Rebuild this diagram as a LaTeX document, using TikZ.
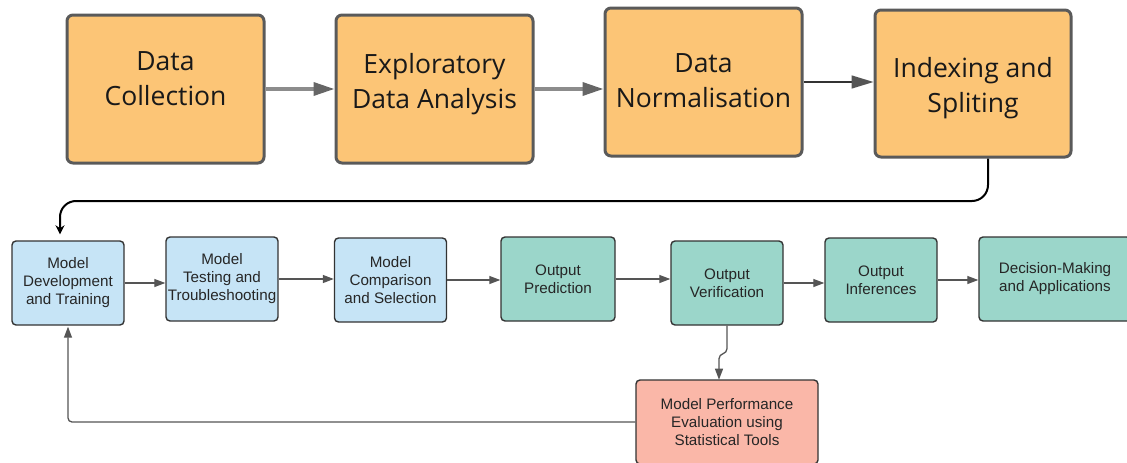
\documentclass[tikz,border=0pt]{standalone}
\usepackage{fontspec}
\setmainfont{Open Sans}
\newfontfamily\arialf{Liberation Sans}
\usetikzlibrary{arrows.meta,calc}
\definecolor{orfill}{HTML}{FCC576}
\definecolor{orline}{HTML}{5A5A5A}
\definecolor{blfill}{HTML}{C6E4F6}
\definecolor{tlfill}{HTML}{9BD6CA}
\definecolor{pkfill}{HTML}{FAB7A8}
\definecolor{bxline}{HTML}{333333}
\definecolor{grline}{HTML}{8C8C8C}
\definecolor{grhead}{HTML}{666666}
\definecolor{dkhead}{HTML}{555555}
\tikzset{
  obox/.style={draw=orline, line width=3pt, fill=orfill, rounded corners=6pt,
    minimum width=197pt, minimum height=148pt, inner sep=0pt},
  otext/.style={align=center, inner sep=0pt, font=\fontsize{26.5}{35}\selectfont, text=black!90},
  sbox/.style={draw=bxline, line width=1.4pt, rounded corners=4pt,
    minimum width=112pt, minimum height=84pt, inner sep=0pt, align=center,
    font=\arialf\fontsize{15.2}{18}\selectfont, text=black!85},
  bbox/.style={sbox, fill=blfill},
  tbox/.style={sbox, fill=tlfill},
  pbox/.style={sbox, fill=pkfill},
  grarrow/.style={draw=grline, line width=3.5pt, -{Triangle[length=21pt,width=13pt,color=grhead]}},
  dkarrow/.style={draw=bxline, line width=1.5pt, -{Triangle[length=22pt,width=13pt,color=dkhead]}},
  barrow/.style={draw=dkhead, line width=1.3pt, -{Triangle[length=11pt,width=8pt]}},
}
\begin{document}
\begin{tikzpicture}[x=1pt,y=-1pt]
\useasboundingbox (0,0) rectangle (1127,463);
% top row
\node[obox] (dc)  at (165.5,89) {};
\node[obox] (eda) at (434.5,89) {};
\node[obox] (dn)  at (703.5,82) {};
\node[obox, minimum width=196pt, minimum height=147pt] (is) at (973,83.5) {};
\node[otext] (dct)  at (165.5,79) {Data\\Collection};
\node[otext] (edat) at (434.5,84) {Exploratory\\Data Analysis};
\node[otext] (dnt)  at (703.5,81) {Data\\Normalisation};
\node[otext] (ist)  at (973,88) {Indexing and\\Spliting};
\draw[grarrow] (dc.east) -- (dc.east -| eda.west);
\draw[grarrow] (eda.east) -- (eda.east -| dn.west);
\draw[dkarrow] (dn.east) -- (dn.east -| is.west);
% bottom row
\node[bbox] (md) at (68,283) {Model\\Development\\and Training};
\node[bbox] (mt) at (222,279) {Model\\Testing and\\Troubleshooting};
\node[bbox] (mc) at (390.5,280) {Model\\Comparison\\and Selection};
\node[tbox, minimum width=114pt] (op) at (558,279) {Output\\Prediction};
\node[tbox] (ov) at (727,283) {Output\\Verification};
\node[tbox] (oi) at (881,280) {Output\\Inferences};
\node[tbox, minimum width=152pt] (dm) at (1055,279) {Decision-Making\\and Applications};
\node[pbox, minimum width=182pt] (mpe) at (727,422) {Model Performance\\Evaluation using\\Statistical Tools};
\draw[barrow] (md.east) -- (md.east -| mt.west);
\draw[barrow] (mt.east) -- (mt.east -| mc.west);
\draw[barrow] (mc.east) -- (mc.east -| op.west);
\draw[barrow] (op.east) -- (op.east -| ov.west);
\draw[barrow] (ov.east) -- (ov.east -| oi.west);
\draw[barrow] (oi.east) -- (oi.east -| dm.west);
% connector from indexing to model development
\coordinate (isout) at ($(is.south)+(15,0)$);
\coordinate (mdin) at ($(md.north)+(-8,-6)$);
\draw[black, line width=2pt, rounded corners=16pt, -{Stealth[length=9pt,width=9pt]}]
  (isout) -- ++(0,42.5) -| (mdin);
% verification to performance evaluation
\draw[barrow] (ov.south) -- ++(0,23) .. controls +(0,6) and +(0,-6) .. ++(-8,10) -- ++(0,21);
% feedback loop
\draw[barrow, rounded corners=4pt, shorten >=1pt] (mpe.west) -| (md.south);
\end{tikzpicture}
\end{document}
